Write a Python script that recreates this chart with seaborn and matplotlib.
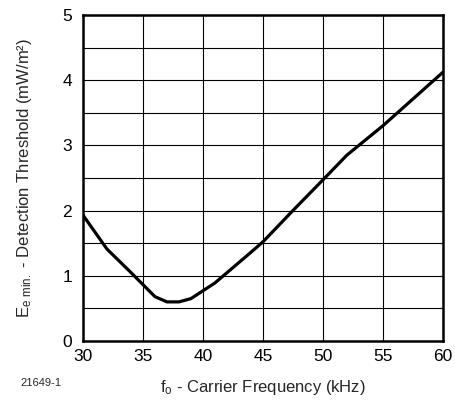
import matplotlib
matplotlib.use("Agg")
import matplotlib.pyplot as plt
import numpy as np
import pandas as pd
import seaborn as sns

# values
freq_khz = [30, 32, 34, 36, 37, 38, 39, 41, 44, 45, 47.5, 50, 52, 55, 60]
threshold = [1.93, 1.41, 1.05, 0.68, 0.60, 0.60, 0.65, 0.89, 1.36, 1.52, 2.0, 2.47, 2.85, 3.30, 4.12]
x_ticks = [30, 35, 40, 45, 50, 55, 60]
y_ticks = [0, 1, 2, 3, 4, 5]
y_minor = [0.5, 1.5, 2.5, 3.5, 4.5]

sns.set_style("white")
plt.rcParams["font.family"] = ["Liberation Sans", "DejaVu Sans"]
plt.rcParams["mathtext.fontset"] = "custom"
plt.rcParams["mathtext.rm"] = "Liberation Sans"
plt.rcParams["mathtext.default"] = "regular"

df = pd.DataFrame({"freq": freq_khz, "thr": threshold})

fig, ax = plt.subplots(figsize=(4.56, 4.0), dpi=100)
fig.subplots_adjust(left=0.182, right=0.971, top=0.9625, bottom=0.1475)

sns.lineplot(data=df, x="freq", y="thr", ax=ax, color="black", linewidth=2.3, zorder=3)

ax.set_xlim(30, 60)
ax.set_ylim(0, 5)
ax.set_xticks(x_ticks)
ax.set_yticks(y_ticks)
ax.set_yticks(y_minor, minor=True)
ax.grid(True, which="both", color="black", linewidth=0.8)
ax.tick_params(axis="both", which="both", length=0, labelsize=12.5, colors="black")
ax.tick_params(axis="x", pad=6)
ax.tick_params(axis="y", pad=8)
for sp in ax.spines.values():
    sp.set_color("black")
    sp.set_linewidth(1.8)

ax.set_xlabel(r"f$_o$ - Carrier Frequency (kHz)", fontsize=12, labelpad=10)
ax.set_ylabel(r"E$_{e\ min.}$ - Detection Threshold (mW/m²)", fontsize=12, labelpad=20)
fig.text(0.044, 0.042, "21649-1", fontsize=8, ha="left", va="center")

fig.savefig("out.png", dpi=100)
